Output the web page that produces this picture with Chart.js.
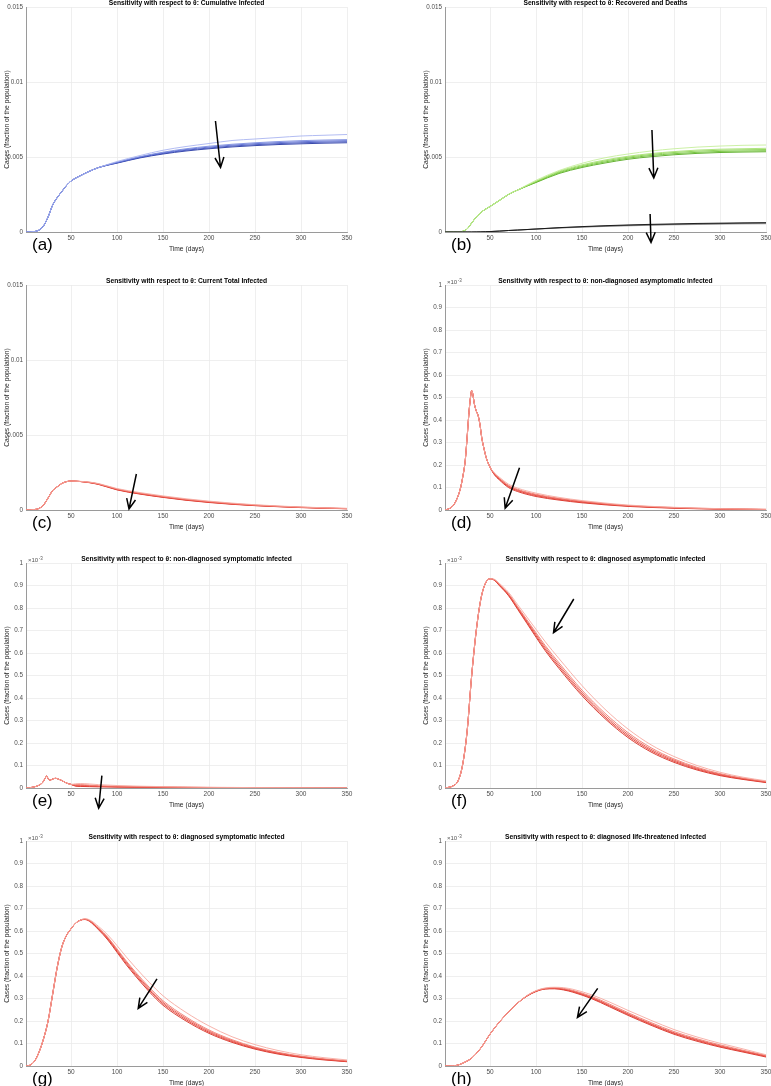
<!DOCTYPE html>
<html>
<head>
<meta charset="utf-8">
<script src="https://cdn.jsdelivr.net/npm/chart.js@4"></script>
<style>
  body { margin: 0; background: #fff; width: 771px; height: 1086px; position: relative; overflow: hidden; }
  canvas { position: absolute; }
</style>
</head>
<body>
<script>
// ---- tick values ----
const xTicks = [50, 100, 150, 200, 250, 300, 350];
const yTicksBig = [0, 0.005, 0.01, 0.015];
const yTicksSmall = [0, 0.1, 0.2, 0.3, 0.4, 0.5, 0.6, 0.7, 0.8, 0.9, 1];

// ---- (a)(b)(c) day grid ----
const daysStd = [1, 10, 15, 20, 25, 30, 35, 40, 45, 50, 60, 70, 80, 100, 125, 150, 175, 200, 225, 250, 275, 300, 325, 350];

// (a) cumulative infected (fraction)
const cum1 = [0, 0.00003, 0.00012, 0.0004, 0.001, 0.0018, 0.0023, 0.0027, 0.0031, 0.0034, 0.00375, 0.00405, 0.0043, 0.0047, 0.0051, 0.00545, 0.0057, 0.0059, 0.0061, 0.0062, 0.0063, 0.0064, 0.00645, 0.0065];
const cum2 = [0, 0.00003, 0.00012, 0.0004, 0.001, 0.0018, 0.0023, 0.0027, 0.0031, 0.0034, 0.00375, 0.00405, 0.0043, 0.00465, 0.00503, 0.00532, 0.00555, 0.00572, 0.00585, 0.00595, 0.00603, 0.00609, 0.00613, 0.00616];
const cum3 = [0, 0.00003, 0.00012, 0.0004, 0.001, 0.0018, 0.0023, 0.0027, 0.0031, 0.0034, 0.00375, 0.00405, 0.0043, 0.00463, 0.005, 0.00528, 0.0055, 0.00566, 0.00579, 0.00589, 0.00596, 0.00602, 0.00606, 0.00609];
const cum4 = [0, 0.00003, 0.00012, 0.0004, 0.001, 0.0018, 0.0023, 0.0027, 0.0031, 0.0034, 0.00375, 0.00405, 0.0043, 0.00461, 0.00497, 0.00524, 0.00545, 0.0056, 0.00573, 0.00582, 0.00589, 0.00595, 0.00599, 0.00602];
const cum5 = [0, 0.00003, 0.00012, 0.0004, 0.001, 0.0018, 0.0023, 0.0027, 0.0031, 0.0034, 0.00375, 0.00405, 0.0043, 0.00459, 0.00494, 0.0052, 0.0054, 0.00555, 0.00567, 0.00576, 0.00583, 0.00588, 0.00592, 0.00595];

// (b) recovered (green) and deaths (black)
const rec1 = [0, 0, 0.00001, 0.00004, 0.0002, 0.0006, 0.001, 0.0013, 0.00152, 0.0017, 0.0021, 0.0025, 0.0028, 0.00345, 0.0041, 0.00458, 0.00495, 0.0052, 0.0054, 0.00555, 0.00566, 0.00573, 0.00578, 0.0058];
const rec2 = [0, 0, 0.00001, 0.00004, 0.0002, 0.0006, 0.001, 0.0013, 0.00152, 0.0017, 0.0021, 0.0025, 0.0028, 0.00339, 0.00405, 0.00448, 0.0048, 0.00505, 0.00523, 0.00536, 0.00546, 0.00552, 0.00555, 0.00558];
const rec3 = [0, 0, 0.00001, 0.00004, 0.0002, 0.0006, 0.001, 0.0013, 0.00152, 0.0017, 0.0021, 0.0025, 0.0028, 0.00336, 0.004, 0.00442, 0.00474, 0.00499, 0.00517, 0.0053, 0.00539, 0.00545, 0.00548, 0.0055];
const rec4 = [0, 0, 0.00001, 0.00004, 0.0002, 0.0006, 0.001, 0.0013, 0.00152, 0.0017, 0.0021, 0.0025, 0.0028, 0.00333, 0.00395, 0.00436, 0.00467, 0.00492, 0.0051, 0.00522, 0.00531, 0.00537, 0.0054, 0.00542];
const rec5 = [0, 0, 0.00001, 0.00004, 0.0002, 0.0006, 0.001, 0.0013, 0.00152, 0.0017, 0.0021, 0.0025, 0.0028, 0.0033, 0.0039, 0.0043, 0.0046, 0.00485, 0.00502, 0.00515, 0.00524, 0.0053, 0.00533, 0.00535];
const dth1 = [0, 0, 0, 0, 0, 0, 0.000005, 0.00001, 0.00002, 0.00003, 0.00006, 0.0001, 0.00013, 0.0002, 0.00029, 0.00036, 0.00042, 0.00047, 0.00051, 0.00054, 0.00057, 0.00059, 0.00061, 0.00062];
const dth2 = [0, 0, 0, 0, 0, 0, 0.000005, 0.00001, 0.00002, 0.00003, 0.00006, 0.0001, 0.00013, 0.0002, 0.00028, 0.00034, 0.0004, 0.00044, 0.00048, 0.00051, 0.00054, 0.00056, 0.00058, 0.0006];
const dth3 = [0, 0, 0, 0, 0, 0, 0.000005, 0.00001, 0.00002, 0.00003, 0.00006, 0.0001, 0.00013, 0.00019, 0.00026, 0.00032, 0.00037, 0.00041, 0.00045, 0.00048, 0.0005, 0.00052, 0.00054, 0.00055];

// (c) current total infected
const tot1 = [0, 0.00003, 0.0001, 0.00033, 0.0008, 0.0013, 0.00155, 0.00177, 0.00189, 0.00193, 0.00191, 0.00186, 0.00176, 0.00143, 0.00116, 0.00094, 0.00075, 0.00059, 0.00046, 0.00035, 0.00027, 0.0002, 0.00015, 0.00011];
const tot2 = [0, 0.00003, 0.0001, 0.00033, 0.0008, 0.0013, 0.00155, 0.00177, 0.00189, 0.00193, 0.0019, 0.00185, 0.00174, 0.0014, 0.00112, 0.0009, 0.00071, 0.00056, 0.00043, 0.00033, 0.00025, 0.00019, 0.00014, 0.0001];
const tot3 = [0, 0.00003, 0.0001, 0.00033, 0.0008, 0.0013, 0.00155, 0.00177, 0.00189, 0.00193, 0.0019, 0.00184, 0.00173, 0.00138, 0.0011, 0.00088, 0.00069, 0.00054, 0.00041, 0.00031, 0.00024, 0.00018, 0.00013, 0.00009];
const tot4 = [0, 0.00003, 0.0001, 0.00033, 0.0008, 0.0013, 0.00155, 0.00177, 0.00189, 0.00193, 0.0019, 0.00183, 0.00172, 0.00136, 0.00108, 0.00086, 0.00067, 0.00052, 0.0004, 0.0003, 0.00023, 0.00017, 0.00012, 0.00009];
const tot5 = [0, 0.00003, 0.0001, 0.00033, 0.0008, 0.0013, 0.00155, 0.00177, 0.00189, 0.00193, 0.0019, 0.00182, 0.0017, 0.00134, 0.00106, 0.00084, 0.00065, 0.0005, 0.00038, 0.00029, 0.00022, 0.00016, 0.00012, 0.00008];

// (d) non-diagnosed asymptomatic (x10^-3)
const daysD = [1, 5, 10, 15, 18, 20, 23, 25, 27, 29, 30, 31, 33, 35, 37, 39, 41, 43, 46, 50, 55, 60, 70, 80, 100, 125, 150, 175, 200, 250, 300, 350];
const nda1 = [0, 0.005, 0.02, 0.06, 0.1, 0.14, 0.22, 0.32, 0.43, 0.51, 0.53, 0.52, 0.47, 0.44, 0.42, 0.38, 0.32, 0.28, 0.23, 0.19, 0.164, 0.146, 0.115, 0.097, 0.075, 0.056, 0.042, 0.031, 0.022, 0.012, 0.006, 0.003];
const nda2 = [0, 0.005, 0.02, 0.06, 0.1, 0.14, 0.22, 0.32, 0.43, 0.51, 0.53, 0.52, 0.47, 0.44, 0.42, 0.38, 0.32, 0.28, 0.23, 0.19, 0.161, 0.142, 0.11, 0.092, 0.07, 0.052, 0.039, 0.028, 0.02, 0.011, 0.0055, 0.0028];
const nda3 = [0, 0.005, 0.02, 0.06, 0.1, 0.14, 0.22, 0.32, 0.43, 0.51, 0.53, 0.52, 0.47, 0.44, 0.42, 0.38, 0.32, 0.28, 0.23, 0.19, 0.159, 0.14, 0.107, 0.089, 0.067, 0.05, 0.037, 0.027, 0.019, 0.01, 0.005, 0.0025];
const nda4 = [0, 0.005, 0.02, 0.06, 0.1, 0.14, 0.22, 0.32, 0.43, 0.51, 0.53, 0.52, 0.47, 0.44, 0.42, 0.38, 0.32, 0.28, 0.23, 0.19, 0.157, 0.137, 0.104, 0.086, 0.064, 0.047, 0.035, 0.025, 0.018, 0.009, 0.0045, 0.002];
const nda5 = [0, 0.005, 0.02, 0.06, 0.1, 0.14, 0.22, 0.32, 0.43, 0.51, 0.53, 0.52, 0.47, 0.44, 0.42, 0.38, 0.32, 0.28, 0.23, 0.19, 0.155, 0.134, 0.1, 0.082, 0.06, 0.044, 0.032, 0.023, 0.016, 0.008, 0.004, 0.002];

// (e) non-diagnosed symptomatic (x10^-3)
const daysE = [1, 5, 10, 15, 18, 20, 22, 23.5, 25, 27, 30, 33, 36, 40, 45, 50, 55, 60, 70, 80, 100, 125, 150, 200, 250, 300, 350];
const nds1 = [0, 0.001, 0.005, 0.012, 0.02, 0.03, 0.045, 0.053, 0.042, 0.035, 0.04, 0.043, 0.04, 0.033, 0.022, 0.016, 0.019, 0.02, 0.018, 0.015, 0.011, 0.008, 0.006, 0.0033, 0.0018, 0.001, 0.0005];
const nds2 = [0, 0.001, 0.005, 0.012, 0.02, 0.03, 0.045, 0.053, 0.042, 0.035, 0.04, 0.043, 0.04, 0.033, 0.022, 0.016, 0.015, 0.015, 0.013, 0.01, 0.008, 0.006, 0.0045, 0.0025, 0.0013, 0.0007, 0.0004];
const nds3 = [0, 0.001, 0.005, 0.012, 0.02, 0.03, 0.045, 0.053, 0.042, 0.035, 0.04, 0.043, 0.04, 0.033, 0.022, 0.016, 0.012, 0.012, 0.01, 0.008, 0.006, 0.0045, 0.0035, 0.002, 0.001, 0.0005, 0.0003];
const nds4 = [0, 0.001, 0.005, 0.012, 0.02, 0.03, 0.045, 0.053, 0.042, 0.035, 0.04, 0.043, 0.04, 0.033, 0.022, 0.016, 0.01, 0.009, 0.008, 0.007, 0.005, 0.004, 0.003, 0.0015, 0.0008, 0.0004, 0.0002];
const nds5 = [0, 0.001, 0.005, 0.012, 0.02, 0.03, 0.045, 0.053, 0.042, 0.035, 0.04, 0.043, 0.04, 0.033, 0.022, 0.016, 0.008, 0.007, 0.006, 0.005, 0.004, 0.003, 0.002, 0.001, 0.0006, 0.0003, 0.0002];

// (f) diagnosed asymptomatic (x10^-3)
const daysF = [1, 10, 15, 20, 25, 30, 35, 40, 45, 50, 55, 60, 70, 80, 90, 100, 110, 125, 150, 175, 200, 225, 250, 275, 300, 325, 350];
const da1 = [0, 0.01, 0.03, 0.1, 0.25, 0.5, 0.7, 0.84, 0.91, 0.93, 0.927, 0.91, 0.87, 0.815, 0.76, 0.705, 0.65, 0.575, 0.455, 0.35, 0.262, 0.192, 0.14, 0.1, 0.07, 0.048, 0.032];
const da2 = [0, 0.01, 0.03, 0.1, 0.25, 0.5, 0.7, 0.84, 0.91, 0.93, 0.925, 0.906, 0.864, 0.806, 0.748, 0.69, 0.633, 0.556, 0.435, 0.332, 0.246, 0.179, 0.129, 0.092, 0.064, 0.044, 0.029];
const da3 = [0, 0.01, 0.03, 0.1, 0.25, 0.5, 0.7, 0.84, 0.91, 0.93, 0.924, 0.904, 0.861, 0.802, 0.742, 0.683, 0.625, 0.547, 0.426, 0.323, 0.238, 0.172, 0.124, 0.088, 0.061, 0.042, 0.027];
const da4 = [0, 0.01, 0.03, 0.1, 0.25, 0.5, 0.7, 0.84, 0.91, 0.93, 0.923, 0.902, 0.858, 0.798, 0.737, 0.676, 0.617, 0.539, 0.418, 0.315, 0.231, 0.166, 0.119, 0.084, 0.058, 0.04, 0.026];
const da5 = [0, 0.01, 0.03, 0.1, 0.25, 0.5, 0.7, 0.84, 0.91, 0.93, 0.922, 0.9, 0.855, 0.794, 0.732, 0.67, 0.61, 0.531, 0.41, 0.308, 0.224, 0.16, 0.114, 0.08, 0.055, 0.038, 0.024];

// (g) diagnosed symptomatic (x10^-3)
const daysG = [1, 5, 10, 15, 20, 25, 30, 35, 40, 45, 50, 55, 60, 65, 70, 80, 90, 100, 110, 120, 135, 150, 175, 200, 225, 250, 275, 300, 325, 350];
const ds1 = [0, 0.003, 0.02, 0.06, 0.12, 0.2, 0.32, 0.44, 0.53, 0.58, 0.61, 0.635, 0.648, 0.655, 0.65, 0.62, 0.582, 0.535, 0.485, 0.438, 0.372, 0.312, 0.238, 0.178, 0.13, 0.095, 0.069, 0.05, 0.037, 0.027];
const ds2 = [0, 0.003, 0.02, 0.06, 0.12, 0.2, 0.32, 0.44, 0.53, 0.58, 0.61, 0.635, 0.648, 0.653, 0.647, 0.613, 0.572, 0.52, 0.467, 0.418, 0.35, 0.29, 0.218, 0.16, 0.117, 0.084, 0.061, 0.044, 0.032, 0.023];
const ds3 = [0, 0.003, 0.02, 0.06, 0.12, 0.2, 0.32, 0.44, 0.53, 0.58, 0.61, 0.635, 0.648, 0.652, 0.646, 0.611, 0.569, 0.515, 0.462, 0.412, 0.343, 0.283, 0.212, 0.155, 0.113, 0.081, 0.058, 0.042, 0.03, 0.021];
const ds4 = [0, 0.003, 0.02, 0.06, 0.12, 0.2, 0.32, 0.44, 0.53, 0.58, 0.61, 0.635, 0.648, 0.652, 0.645, 0.608, 0.565, 0.51, 0.456, 0.406, 0.337, 0.277, 0.206, 0.15, 0.109, 0.078, 0.056, 0.04, 0.029, 0.02];
const ds5 = [0, 0.003, 0.02, 0.06, 0.12, 0.2, 0.32, 0.44, 0.53, 0.58, 0.61, 0.635, 0.648, 0.651, 0.643, 0.605, 0.56, 0.505, 0.45, 0.4, 0.33, 0.27, 0.2, 0.145, 0.105, 0.075, 0.053, 0.038, 0.027, 0.019];

// (h) diagnosed life-threatened (x10^-3)
const daysH = [1, 10, 15, 20, 25, 30, 40, 50, 60, 70, 80, 90, 100, 110, 120, 130, 140, 160, 180, 200, 225, 250, 275, 300, 325, 350];
const dl1 = [0, 0.001, 0.004, 0.012, 0.022, 0.035, 0.08, 0.142, 0.195, 0.24, 0.28, 0.313, 0.335, 0.347, 0.35, 0.348, 0.341, 0.317, 0.284, 0.247, 0.203, 0.162, 0.129, 0.101, 0.076, 0.05];
const dl2 = [0, 0.001, 0.004, 0.012, 0.022, 0.035, 0.08, 0.142, 0.195, 0.24, 0.28, 0.312, 0.334, 0.345, 0.348, 0.345, 0.336, 0.31, 0.275, 0.237, 0.193, 0.153, 0.121, 0.094, 0.07, 0.047];
const dl3 = [0, 0.001, 0.004, 0.012, 0.022, 0.035, 0.08, 0.142, 0.195, 0.24, 0.28, 0.312, 0.333, 0.344, 0.346, 0.342, 0.333, 0.306, 0.27, 0.232, 0.188, 0.148, 0.117, 0.09, 0.067, 0.045];
const dl4 = [0, 0.001, 0.004, 0.012, 0.022, 0.035, 0.08, 0.142, 0.195, 0.24, 0.28, 0.311, 0.332, 0.343, 0.345, 0.34, 0.331, 0.303, 0.267, 0.229, 0.185, 0.145, 0.114, 0.087, 0.065, 0.043];
const dl5 = [0, 0.001, 0.004, 0.012, 0.022, 0.035, 0.08, 0.142, 0.195, 0.24, 0.28, 0.31, 0.331, 0.342, 0.343, 0.338, 0.328, 0.3, 0.263, 0.225, 0.181, 0.141, 0.11, 0.084, 0.062, 0.04];

// ---- arrows, [day, value] tail -> tip ----
const arrowA = [[207, 0.0074], [212.5, 0.0043]];
const arrowB1 = [[226, 0.0068], [228, 0.0036]];
const arrowB2 = [[224, 0.0012], [225, -0.0007]];
const arrowC = [[121, 0.0024], [113, 0.00007]];
const arrowD = [[82, 0.188], [66.4, 0.008]];
const arrowE = [[83.5, 0.055], [80, -0.09]];
const arrowF = [[141, 0.84], [119, 0.69]];
const arrowG = [[143.4, 0.387], [123, 0.256]];
const arrowH = [[167, 0.345], [145, 0.216]];

// ---- colours ----
const blues = ['#a9b4f0', '#7b8ce0', '#5668cf', '#3a4dbb', '#2334a0'];
const greens = ['#c6ee9c', '#a6e070', '#86d04a', '#6abf2e', '#52a81c'];
const greys = ['#111111', '#555555', '#9a9a9a'];
const reds = ['#f6aaa2', '#f0796d', '#e9544a', '#e23a2f', '#d62a1f'];

const FONT = "'Liberation Sans', Arial, sans-serif";
Chart.defaults.font.family = FONT;
Chart.defaults.animation = false;

const yLabel = 'Cases (fraction of the population)';
const rowTop = [7, 285, 563, 841];
const cols = [
  { left: 0, width: 361, axisW: 26, padR: 14, titlePad: 3 },
  { left: 410, width: 364, axisW: 35, padR: 8, titlePad: 12 }
];

const panels = [
  { letter: '(a)', title: 'Sensitivity with respect to θ: Cumulative Infected', row: 0, col: 0,
    groups: [{ days: daysStd, series: [cum1, cum2, cum3, cum4, cum5], colors: blues }],
    big: true, arrows: [arrowA] },
  { letter: '(b)', title: 'Sensitivity with respect to θ: Recovered and Deaths', row: 0, col: 1,
    groups: [{ days: daysStd, series: [dth1, dth2, dth3], colors: greys },
             { days: daysStd, series: [rec1, rec2, rec3, rec4, rec5], colors: greens }],
    big: true, arrows: [arrowB1, arrowB2] },
  { letter: '(c)', title: 'Sensitivity with respect to θ: Current Total Infected', row: 1, col: 0,
    groups: [{ days: daysStd, series: [tot1, tot2, tot3, tot4, tot5], colors: reds }],
    big: true, arrows: [arrowC] },
  { letter: '(d)', title: 'Sensitivity with respect to θ: non-diagnosed asymptomatic infected', row: 1, col: 1,
    groups: [{ days: daysD, series: [nda1, nda2, nda3, nda4, nda5], colors: reds }],
    big: false, arrows: [arrowD] },
  { letter: '(e)', title: 'Sensitivity with respect to θ: non-diagnosed symptomatic infected', row: 2, col: 0,
    groups: [{ days: daysE, series: [nds1, nds2, nds3, nds4, nds5], colors: reds }],
    big: false, arrows: [arrowE] },
  { letter: '(f)', title: 'Sensitivity with respect to θ: diagnosed asymptomatic infected', row: 2, col: 1,
    groups: [{ days: daysF, series: [da1, da2, da3, da4, da5], colors: reds }],
    big: false, arrows: [arrowF] },
  { letter: '(g)', title: 'Sensitivity with respect to θ: diagnosed symptomatic infected', row: 3, col: 0,
    groups: [{ days: daysG, series: [ds1, ds2, ds3, ds4, ds5], colors: reds }],
    big: false, arrows: [arrowG] },
  { letter: '(h)', title: 'Sensitivity with respect to θ: diagnosed life-threatened infected', row: 3, col: 1,
    groups: [{ days: daysH, series: [dl1, dl2, dl3, dl4, dl5], colors: reds }],
    big: false, arrows: [arrowH] }
];

// letters, exponent label and arrows
const decor = {
  id: 'decor',
  afterDraw(chart, args, o) {
    const { ctx, chartArea: ca, scales: { x, y } } = chart;
    ctx.save();
    if (o.exp) {
      ctx.fillStyle = '#555';
      ctx.textAlign = 'left';
      ctx.textBaseline = 'alphabetic';
      ctx.font = '6px ' + FONT;
      ctx.fillText('×10', ca.left + 2, ca.top - 1);
      const w = ctx.measureText('×10').width;
      ctx.font = '4.5px ' + FONT;
      ctx.fillText('-3', ca.left + 2.5 + w, ca.top - 3.5);
    }
    ctx.fillStyle = '#000';
    ctx.font = '17px ' + FONT;
    ctx.textAlign = 'left';
    ctx.textBaseline = 'middle';
    ctx.fillText(o.letter, ca.left + 6, ca.bottom + 13);

    ctx.strokeStyle = '#000';
    ctx.lineWidth = 1.5;
    for (const a of o.arrows) {
      const x1 = x.getPixelForValue(a[0][0]), y1 = y.getPixelForValue(a[0][1]);
      const x2 = x.getPixelForValue(a[1][0]), y2 = y.getPixelForValue(a[1][1]);
      const ang = Math.atan2(y2 - y1, x2 - x1), L = 11, s = 0.42;
      ctx.beginPath();
      ctx.moveTo(x1, y1);
      ctx.lineTo(x2, y2);
      ctx.moveTo(x2 - L * Math.cos(ang - s), y2 - L * Math.sin(ang - s));
      ctx.lineTo(x2, y2);
      ctx.lineTo(x2 - L * Math.cos(ang + s), y2 - L * Math.sin(ang + s));
      ctx.stroke();
    }
    ctx.restore();
  }
};

panels.forEach(p => {
  const c = cols[p.col];
  const cv = document.createElement('canvas');
  cv.width = c.width;
  cv.height = 257;
  cv.style.left = c.left + 'px';
  cv.style.top = (rowTop[p.row] - 8) + 'px';
  document.body.appendChild(cv);

  const datasets = [];
  p.groups.forEach(g => {
    g.series.forEach((vals, i) => {
      datasets.push({
        data: g.days.map((d, k) => ({ x: d, y: vals[k] })),
        borderColor: g.colors[i],
        borderWidth: 0.9,
        pointRadius: 0,
        cubicInterpolationMode: 'monotone',
        fill: false
      });
    });
  });

  const yTicks = p.big ? yTicksBig : yTicksSmall;
  new Chart(cv, {
    type: 'line',
    data: { datasets },
    options: {
      responsive: false,
      layout: { padding: { left: 0, right: c.padR, top: 0, bottom: 2 } },
      plugins: {
        legend: { display: false },
        tooltip: { enabled: false },
        title: {
          display: true, text: p.title, fullSize: false, color: '#000',
          font: { size: 6.7, weight: 'bold', lineHeight: 1.15 },
          padding: { top: 0, bottom: 0.3 }
        },
        decor: { letter: p.letter, exp: !p.big, arrows: p.arrows }
      },
      scales: {
        x: {
          type: 'linear', min: 1, max: 350,
          afterBuildTicks: s => { s.ticks = xTicks.map(v => ({ value: v })); },
          afterFit: s => { s.height = 22; },
          grid: { color: '#ebebeb', lineWidth: 0.8, drawTicks: false },
          border: { color: '#9a9a9a', width: 1 },
          ticks: { font: { size: 6.5 }, color: '#4d4d4d', padding: 2, maxRotation: 0, autoSkip: false, callback: v => String(v) },
          title: { display: true, text: 'Time (days)', font: { size: 6.7 }, color: '#262626', padding: { top: 0, bottom: 0.5 } }
        },
        y: {
          type: 'linear', min: 0, max: p.big ? 0.015 : 1,
          afterBuildTicks: s => { s.ticks = yTicks.map(v => ({ value: v })); },
          afterFit: s => { s.width = c.axisW; },
          grid: { color: '#ebebeb', lineWidth: 0.8, drawTicks: false },
          border: { color: '#9a9a9a', width: 1 },
          ticks: { font: { size: 6.3 }, color: '#4d4d4d', padding: 3, autoSkip: false, callback: v => String(v) },
          title: { display: true, text: yLabel, font: { size: 6.7 }, color: '#262626', padding: { top: c.titlePad, bottom: 0 } }
        }
      }
    },
    plugins: [decor]
  });
});
</script>
</body>
</html>
